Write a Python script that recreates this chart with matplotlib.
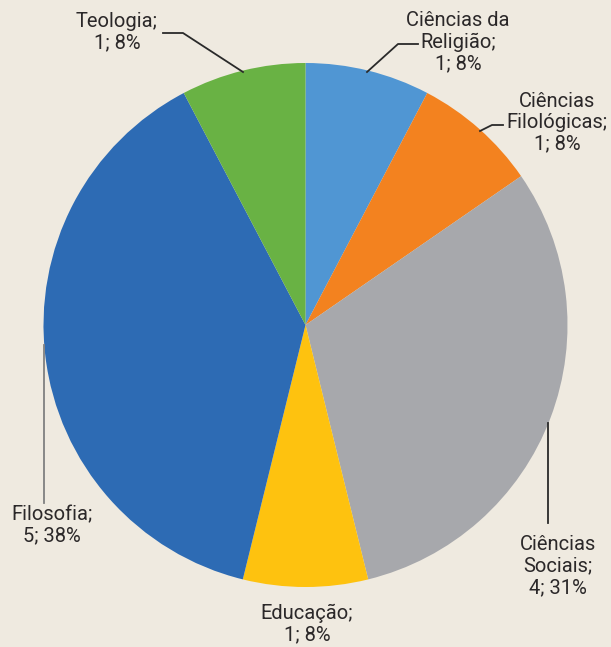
import matplotlib
matplotlib.use("Agg")
import matplotlib.pyplot as plt

categories = ["Ciências da Religião", "Ciências Filológicas", "Ciências Sociais",
              "Educação", "Filosofia", "Teologia"]
values = [1, 1, 4, 1, 5, 1]
label_texts = ["Ciências da\nReligião;\n1; 8%",
               "Ciências\nFilológicas;\n1; 8%",
               "Ciências\nSociais;\n4; 31%",
               "Educação;\n1; 8%",
               "Filosofia;\n5; 38%",
               "Teologia;\n1; 8%"]
colors = ["#5096D3", "#F3821F", "#A7A8AC", "#FEC20F", "#2D6BB4", "#69B244"]

W, H = 611, 647
BG = "#EFEAE0"
fig = plt.figure(figsize=(W / 100, H / 100), dpi=100, facecolor=BG)
ax = fig.add_axes([0, 0, 1, 1])
ax.set_facecolor(BG)


def Y(y):
    return H - y


ax.pie(values, colors=colors, startangle=90, counterclock=False,
       center=(305.5, Y(325)), radius=262, wedgeprops=dict(linewidth=0))
ax.set_xlim(0, W)
ax.set_ylim(0, H)
ax.set_aspect("auto")
ax.axis("off")

font = dict(family=["Roboto", "DejaVu Sans"], fontsize=14.5, fontweight="normal",
            color="#2b2829", ha="center", va="center", linespacing=1.15)

label_pos = [(458, 42), (557, 123), (558, 566), (307, 624), (52, 525), (117, 32)]
for txt, (x, y) in zip(label_texts, label_pos):
    ax.text(x, Y(y), txt, **font)

leaders = [
    ([418, 398, 367], [44, 44, 72], "#2a2a2a"),
    ([503, 492, 480], [125, 125, 131], "#2a2a2a"),
    ([548, 548], [423, 523], "#2a2a2a"),
    ([44, 44], [345, 503], "#808080"),
    ([163, 183, 243], [33, 33, 72], "#2a2a2a"),
]
for xs, ys, c in leaders:
    ax.plot(xs, [Y(v) for v in ys], color=c, linewidth=1.3)

fig.savefig("out.png", dpi=100, facecolor=BG)
